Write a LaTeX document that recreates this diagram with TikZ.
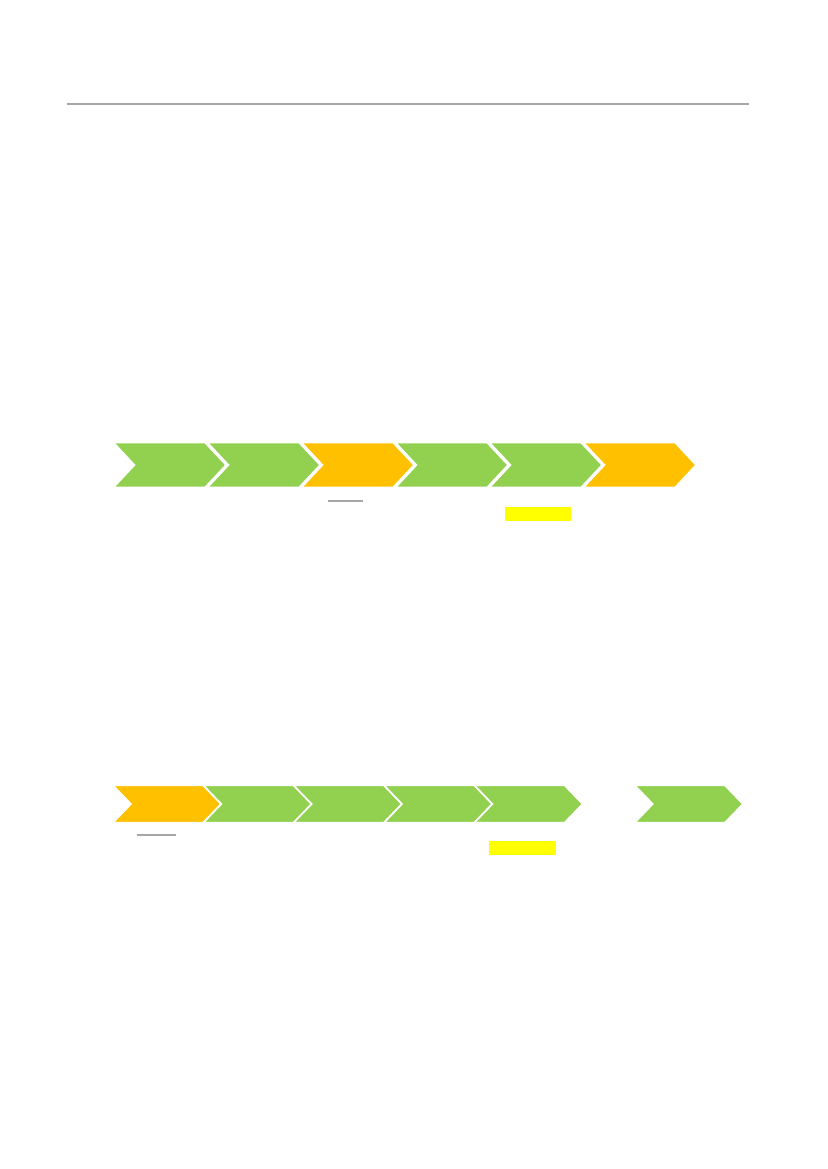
\documentclass[tikz,border=0pt]{standalone}
\usepackage{tikz}

\definecolor{stepgreen}{HTML}{92D050}
\definecolor{steporange}{HTML}{FFC000}
\definecolor{rulegray}{HTML}{A6A6A6}
\definecolor{markyellow}{HTML}{FFFF00}

\tikzset{
  chevbox/.style={draw=white, line width=1.1, line join=miter},
  markbar/.style={fill=markyellow, draw=none},
  rulebar/.style={draw=rulegray, line width=1}
}

\begin{document}
\begin{tikzpicture}[x=0.72pt, y=-0.72pt]
  \useasboundingbox (0,0) rectangle (827,1169);
  \draw[rulebar] (66.7,104) -- (749,104);
  % first row of steps
  \foreach \i/\col in {0/stepgreen,1/stepgreen,2/steporange,3/stepgreen,4/stepgreen,5/steporange}
    \filldraw[chevbox, fill=\col] ({113.5+94*\i},442.5) -- ++(91.5,0) -- ++(21,22.5)
      -- ++(-21,22.5) -- ++(-91.5,0) -- ++(21,-22.5) -- cycle;
  \draw[rulebar] (328.3,501) -- (363,501);
  \fill[markbar] (505,507.3) rectangle (571,520.7);
  % second row of steps
  \foreach \x/\col in {113/steporange,203.4/stepgreen,293.7/stepgreen,384.1/stepgreen,474.5/stepgreen,634.8/stepgreen}
    \filldraw[chevbox, fill=\col] (\x,785.3) -- ++(90,0) -- ++(18,18.7)
      -- ++(-18,18.7) -- ++(-90,0) -- ++(18,-18.7) -- cycle;
  \draw[rulebar] (136.7,835) -- (176,835);
  \fill[markbar] (489,841) rectangle (555.7,855);
\end{tikzpicture}
\end{document}
